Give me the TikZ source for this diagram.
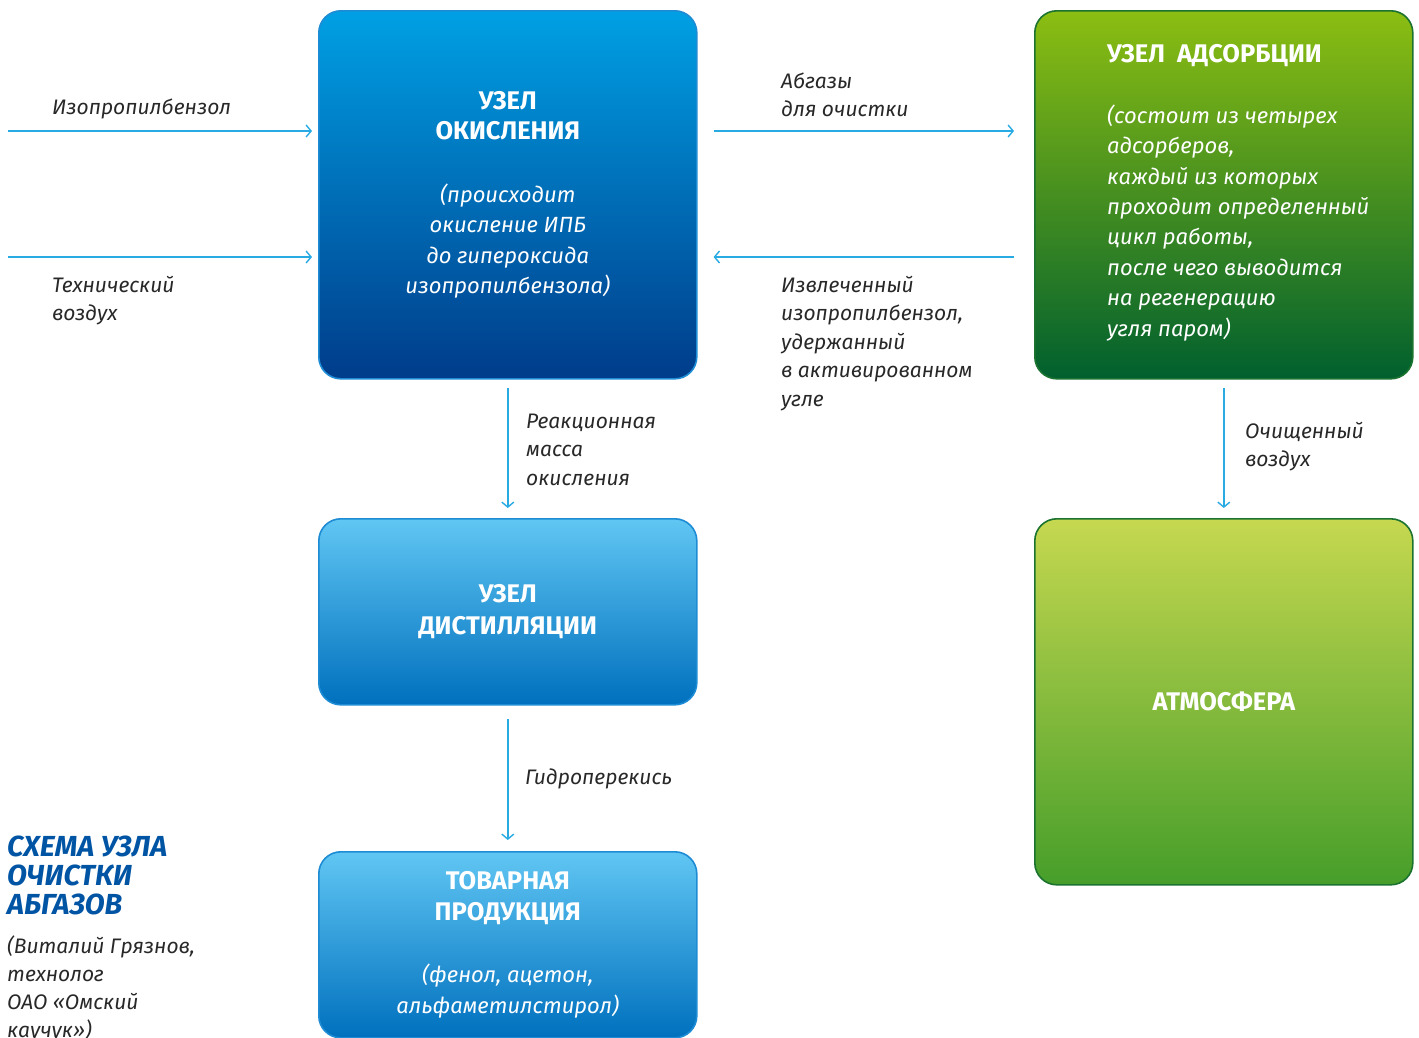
\documentclass[tikz,border=0pt]{standalone}
\usepackage{fontspec}
\setmainfont{Fira Sans}
\usetikzlibrary{arrows.meta,positioning}

\definecolor{flowblue}{RGB}{40,170,226}
\definecolor{labelgray}{RGB}{40,40,40}
\definecolor{titleblue}{RGB}{0,84,164}
\definecolor{oxidtop}{RGB}{0,160,228}
\definecolor{oxidbottom}{RGB}{0,60,138}
\definecolor{oxidline}{RGB}{30,140,212}
\definecolor{skytop}{RGB}{96,198,243}
\definecolor{skymid}{RGB}{30,165,228}
\definecolor{skybottom}{RGB}{0,112,190}
\definecolor{adstop}{RGB}{140,190,18}
\definecolor{adsmid}{RGB}{20,135,45}
\definecolor{adsbottom}{RGB}{0,96,46}
\definecolor{atmtop}{RGB}{198,216,80}
\definecolor{atmmid}{RGB}{150,192,62}
\definecolor{atmbottom}{RGB}{70,158,42}
\definecolor{greenline}{RGB}{28,115,48}

\newcommand\boxhead[1]{{\fontsize{25.5}{30.5}\selectfont\bfseries #1}}

\begin{document}
\begin{tikzpicture}[x=1pt,y=-1pt, every node/.style={inner sep=0pt},
    box/.style={rounded corners=22pt, line width=1.6pt, anchor=north west,
        minimum width=378pt, text=white, align=center,
        font=\fontsize{22}{30.5}\selectfont},
    oxidbox/.style={box, draw=oxidline, top color=oxidtop, bottom color=oxidbottom},
    skybox/.style={box, draw=oxidline, top color=skytop, middle color=skymid, bottom color=skybottom},
    adsbox/.style={box, draw=greenline, top color=adstop, middle color=adsmid, bottom color=adsbottom},
    atmbox/.style={box, draw=greenline, top color=atmtop, middle color=atmmid, bottom color=atmbottom},
    flow/.style={draw=flowblue, line width=1.4pt, shorten <=8pt, shorten >=10pt,
        -{Straight Barb[length=5pt,width=12pt,line width=1.4pt]}},
    lbl/.style={anchor=base west, align=left, text=labelgray,
        font=\fontsize{21}{28.5}\selectfont\itshape}]

\clip (0,0) rectangle (1419,1037);

% boxes
\node[oxidbox, minimum height=368pt] (oxid) at (318,10)
    {\boxhead{УЗЕЛ}\\\boxhead{ОКИСЛЕНИЯ}\\[32pt]\textit{(происходит}\\\textit{окисление ИПБ}\\
     \textit{до гипероксида}\\\textit{изопропилбензола)}};
\node[adsbox, minimum height=368pt] (adsorb) at (1034,10) {};
\node[anchor=base west, align=left, text=white, font=\fontsize{22}{30.4}\selectfont] (adstext) at (1107,336)
    {\boxhead{УЗЕЛ\ \ АДСОРБЦИИ}\\[30pt]\textit{(состоит из четырех}\\\textit{адсорберов,}\\
     \textit{каждый из которых}\\\textit{проходит определенный}\\\textit{цикл работы,}\\
     \textit{после чего выводится}\\\textit{на регенерацию}\\\textit{угля паром)}};
\node[skybox, minimum height=186pt] (distill) at (318,518)
    {\boxhead{УЗЕЛ}\\[1.5pt]\boxhead{ДИСТИЛЛЯЦИИ}};
\node[skybox, minimum height=186pt] (product) at (318,851)
    {\boxhead{ТОВАРНАЯ}\\\boxhead{ПРОДУКЦИЯ}\\[32pt]\textit{(фенол, ацетон,}\\\textit{альфаметилстирол)}};
\node[atmbox, minimum height=366pt] (atmos) at (1034,518) {\boxhead{АТМОСФЕРА}};

% flows
\coordinate (ipbin) at (8,131);
\coordinate (airin) at (8,257);
\draw[flow, shorten <=0pt, shorten >=6pt] (ipbin) -- (ipbin -| oxid.west);
\draw[flow, shorten <=0pt, shorten >=6pt] (airin) -- (airin -| oxid.west);
\draw[flow, shorten <=16pt, shorten >=20pt] (oxid.east |- ipbin) -- (adsorb.west |- ipbin);
\draw[flow, shorten <=20pt, shorten >=16pt] (adsorb.west |- airin) -- (oxid.east |- airin);
\draw[flow] (oxid.south) -- (distill.north);
\draw[flow, shorten <=13pt, shorten >=11pt] (distill.south) -- (product.north);
\draw[flow] (adsorb.south) -- (atmos.north);

% labels (base = last line)
\node[lbl] (ipblbl) at (52,114) {Изопропилбензол};
\node[lbl] (airlbl) at (52,320.5) {Технический\\воздух};
\node[lbl] (offlbl) at (781,116.5) {Абгазы\\для очистки};
\node[lbl] (backlbl) at (781,406) {Извлеченный\\изопропилбензол,\\удержанный\\в активированном\\угле};
\node[lbl] (masslbl) at (526,485) {Реакционная\\масса\\окисления};
\node[lbl] (hydrolbl) at (525,784) {Гидроперекись};
\node[lbl] (cleanlbl) at (1245,466.5) {Очищенный\\воздух};

% title
\node[anchor=base west, align=left, text=titleblue,
      font=\fontsize{29}{29}\selectfont\bfseries\itshape] (title) at (7,914)
    {СХЕМА УЗЛА\\ОЧИСТКИ\\АБГАЗОВ};
\node[lbl, font=\fontsize{21}{28}\selectfont\itshape] (author) at (7,1037)
    {(Виталий Грязнов,\\технолог\\ОАО «Омский\\каучук»)};
\end{tikzpicture}
\end{document}
